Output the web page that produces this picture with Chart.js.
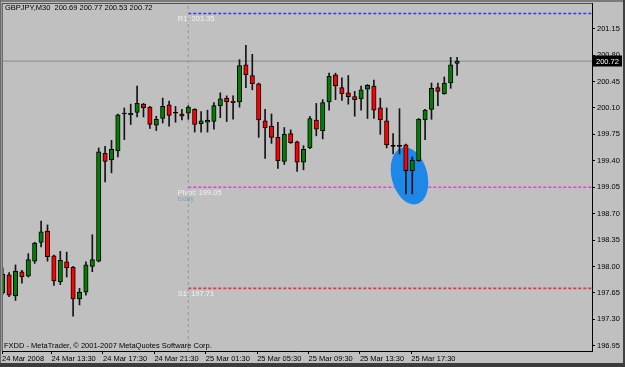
<!DOCTYPE html>
<html><head><meta charset="utf-8">
<script src="https://cdn.jsdelivr.net/npm/chart.js@4/dist/chart.umd.min.js"></script>
<style>html,body{margin:0;padding:0;background:#c0c0c0;overflow:hidden}canvas{display:block}</style>
</head><body>
<canvas id="c" width="625" height="367"></canvas>
<script>
// ---- data (GBPJPY M30) ----
const candleOpen  = [197.65,197.89,197.61,197.93,197.87,198.07,198.32,198.47,198.14,197.80,198.06,197.99,197.57,197.66,198.00,198.07,199.50,199.41,199.53,200.02,200.01,200.04,200.15,200.11,199.87,199.96,200.14,200.03,200.02,200.03,200.08,199.89,199.91,199.92,200.13,200.23,200.19,200.18,200.67,200.53,200.42,199.93,199.86,199.71,199.39,199.76,199.65,199.38,199.57,199.94,199.80,200.18,200.54,200.37,200.30,200.25,200.22,200.35,200.39,200.10,199.93,199.59,199.59,199.61,199.27,199.40,199.94,200.08,200.37,200.29,200.43,200.69];
const candleHigh  = [197.98,197.92,198.02,197.95,198.17,198.32,198.60,198.55,198.15,198.20,198.19,198.00,197.71,198.06,198.42,199.57,199.59,199.67,200.02,200.10,200.15,200.39,200.16,200.12,199.99,200.23,200.19,200.12,200.08,200.13,200.09,200.05,200.07,200.17,200.30,200.26,200.26,200.74,200.93,200.81,200.43,200.08,200.02,199.91,199.84,199.81,199.66,199.60,199.99,200.16,200.21,200.56,200.56,200.50,200.53,200.32,200.39,200.41,200.47,200.23,200.10,199.76,200.09,199.62,199.45,199.96,200.08,200.43,200.43,200.51,200.77,200.77];
const candleLow   = [197.63,197.60,197.55,197.78,197.86,198.04,198.26,198.07,197.75,197.76,197.86,197.34,197.49,197.62,197.93,198.06,199.12,199.24,199.45,199.68,199.88,199.98,199.98,199.83,199.80,199.90,199.86,199.91,199.94,199.95,199.78,199.78,199.78,199.82,199.97,199.92,199.95,200.11,200.37,200.34,199.71,199.43,199.63,199.30,199.35,199.63,199.26,199.28,199.56,199.73,199.69,200.07,200.21,200.20,200.15,199.99,200.07,199.96,199.96,199.75,199.57,199.49,199.49,198.96,198.96,199.39,199.68,199.95,200.13,200.28,200.36,200.53];
const candleClose = [197.90,197.62,197.94,197.86,198.09,198.31,198.46,198.13,197.81,198.08,197.98,197.57,197.66,198.02,198.09,199.52,199.39,199.55,200.01,200.02,200.03,200.16,200.10,199.88,199.95,200.12,200.00,200.03,199.99,200.11,199.88,199.93,199.94,200.13,200.22,200.18,200.17,200.66,200.54,200.42,199.94,199.84,199.71,199.40,199.75,199.64,199.38,199.55,199.96,199.82,200.17,200.52,200.39,200.29,200.25,200.21,200.34,200.40,200.07,199.94,199.61,199.59,199.59,199.27,199.41,199.95,200.07,200.36,200.32,200.43,200.67,200.72];

const timeLabels  = ['24 Mar 2008','24 Mar 13:30','24 Mar 17:30','24 Mar 21:30','25 Mar 01:30','25 Mar 05:30','25 Mar 09:30','25 Mar 13:30','25 Mar 17:30'];
const timeTickIdx = [-0.11, 7.64, 15.67, 23.70, 31.73, 39.76, 47.79, 55.82, 63.85];
const priceTicks  = [196.95,197.30,197.65,198.00,198.35,198.70,199.05,199.40,199.75,200.10,200.45,200.80,201.15];

const levelNames  = ['R1','Pivot','S1'];
const levelValues = [201.35, 199.05, 197.71];
const daySeparatorIdx = 29;
const lastPrice = 200.72;
const headerText = 'GBPJPY,M30  200.69 200.77 200.53 200.72';
const footerText = 'FXDD - MetaTrader, \u00A9 2001-2007 MetaQuotes Software Corp.';
const highlight = {x: 63.56, y: 199.20, rx: 2.8, ry: 0.385};

// ---- view ----
const X_MIN = -0.11, X_MAX = 92.08, Y_MIN = 196.88, Y_MAX = 201.49;
const FONT = "'Liberation Sans', Arial, sans-serif";
const levelColors = ['#3434f4', '#e040e0', '#ec3434'];

const idx = candleOpen.map((_, i) => i);
const bodyColors = idx.map(i => candleClose[i] > candleOpen[i] ? '#008000' : (candleClose[i] < candleOpen[i] ? '#ff0000' : '#000000'));

const datasets = [
  { label: 'bodies', type: 'bar', order: 0, grouped: false,
    data: idx.map(i => ({x: i, y: [candleOpen[i], candleClose[i]]})),
    backgroundColor: bodyColors, borderColor: '#000', borderWidth: 1, borderSkipped: false,
    barThickness: 4.4, minBarLength: 1 },
  { label: 'wicks', type: 'bar', order: 1, grouped: false,
    data: idx.map(i => ({x: i, y: [candleLow[i], candleHigh[i]]})),
    backgroundColor: '#141414', borderWidth: 0, barThickness: 1 },
  { label: 'last', type: 'line', order: 3,
    data: [{x: X_MIN, y: lastPrice}, {x: X_MAX, y: lastPrice}],
    borderColor: '#8e98a2', borderWidth: 1.2, pointRadius: 0 },
  { label: 'sep', type: 'line', order: 3,
    data: [{x: daySeparatorIdx, y: Y_MIN}, {x: daySeparatorIdx, y: Y_MAX}],
    borderColor: '#969696', borderWidth: 1, borderDash: [3, 3], pointRadius: 0 }
];
levelValues.forEach((v, k) => datasets.push({
  label: levelNames[k], type: 'line', order: 3,
  data: [{x: daySeparatorIdx, y: v}, {x: X_MAX, y: v}],
  borderColor: levelColors[k], borderWidth: 1.6, borderDash: [3, 2], pointRadius: 0
}));

const mt4 = {
  id: 'mt4',
  beforeDraw(chart) {
    const c = chart.ctx;
    c.save(); c.fillStyle = '#c0c0c0'; c.fillRect(0, 0, chart.width, chart.height); c.restore();
  },
  beforeDatasetDraw(chart, args) {
    if (args.meta.label !== 'wicks') return;
    const c = chart.ctx, xs = chart.scales.x, ys = chart.scales.y;
    const cx = xs.getPixelForValue(highlight.x), cy = ys.getPixelForValue(highlight.y);
    const rx = Math.abs(xs.getPixelForValue(highlight.x + highlight.rx) - cx);
    const ry = Math.abs(ys.getPixelForValue(highlight.y + highlight.ry) - cy);
    c.save();
    c.fillStyle = '#1e88e8';
    c.beginPath(); c.ellipse(cx, cy, rx, ry, -0.25, 0, Math.PI * 2); c.fill();
    c.restore();
  },
  afterDatasetsDraw(chart) {
    const c = chart.ctx, xs = chart.scales.x, ys = chart.scales.y, a = chart.chartArea;
    c.save();
    c.font = '7.5px ' + FONT;
    c.textBaseline = 'top'; c.textAlign = 'left';
    const sx = xs.getPixelForValue(daySeparatorIdx);
    levelValues.forEach((v, k) => {
      const y = ys.getPixelForValue(v);
      c.fillStyle = '#f2f2f2';
      c.fillText(levelNames[k] + ': ' + v.toFixed(2), sx - 10.5, y + 2);
      if (levelNames[k] === 'Pivot') {
        c.fillStyle = '#7fa6b8'; c.font = '6.5px ' + FONT;
        c.fillText('today', sx - 10.5, y + 9);
        c.font = '7.5px ' + FONT;
      }
    });
    c.fillStyle = '#000';
    c.textBaseline = 'middle';
    c.fillText(headerText, 5, 8);
    c.fillText(footerText, 4, 345.5);
    // plot frame (left/top)
    c.strokeStyle = '#6c6c6c'; c.lineWidth = 1.5;
    c.beginPath(); c.moveTo(a.left + 0.25, a.top); c.lineTo(a.left + 0.25, a.bottom); c.stroke();
    c.strokeStyle = '#505050'; c.lineWidth = 1;
    c.beginPath(); c.moveTo(a.left, a.top + 0.5); c.lineTo(a.right, a.top + 0.5); c.stroke();
    c.restore();
  },
  afterDraw(chart) {
    const c = chart.ctx, ys = chart.scales.y, a = chart.chartArea;
    const y = ys.getPixelForValue(lastPrice);
    c.save();
    c.fillStyle = '#000';
    c.fillRect(a.right + 1, Math.round(y) - 5.5, 29, 11);
    c.fillStyle = '#ffffff';
    c.font = '7.5px ' + FONT; c.textBaseline = 'middle'; c.textAlign = 'left';
    c.fillText(lastPrice.toFixed(2), a.right + 4, Math.round(y) + 0.5);
    // window frame
    c.fillStyle = '#7a7a7a'; c.fillRect(0, 0, chart.width, 2);
    c.fillStyle = '#6a6a6a'; c.fillRect(0, 0, 1, chart.height);
    c.fillStyle = '#404040'; c.fillRect(chart.width - 2, 0, 2, chart.height);
    c.fillStyle = '#3c3c3c'; c.fillRect(0, chart.height - 4, chart.width, 4);
    c.restore();
  }
};

new Chart(document.getElementById('c'), {
  type: 'bar',
  data: { datasets },
  options: {
    responsive: false, devicePixelRatio: 1, animation: false, events: [],
    layout: { padding: { left: 2, top: 3, right: 0, bottom: 0 } },
    plugins: { legend: { display: false }, tooltip: { enabled: false } },
    scales: {
      x: {
        type: 'linear', min: X_MIN, max: X_MAX, offset: false,
        afterBuildTicks: s => { s.ticks = timeTickIdx.map(v => ({value: v})); },
        afterFit: s => { s.height = 16; s.paddingLeft = 0; s.paddingRight = 0; },
        ticks: { autoSkip: false, maxRotation: 0, align: 'start', padding: 0, color: '#000',
                 font: { family: FONT, size: 7.5 },
                 callback: (v, i) => timeLabels[i] },
        grid: { drawOnChartArea: false, offset: false, tickLength: 3, color: '#000' },
        border: { display: true, color: '#000', width: 1 }
      },
      y: {
        type: 'linear', position: 'right', min: Y_MIN, max: Y_MAX, beginAtZero: false,
        afterBuildTicks: s => { s.ticks = priceTicks.map(v => ({value: v})); },
        afterFit: s => { s.width = 33; s.paddingTop = 0; s.paddingBottom = 0; },
        ticks: { autoSkip: false, padding: 2, color: '#000', font: { family: FONT, size: 7.5 },
                 callback: v => Number(v).toFixed(2) },
        grid: { drawOnChartArea: false, tickLength: 3, color: '#000' },
        border: { display: true, color: '#000', width: 1 }
      }
    }
  },
  plugins: [mt4]
});
</script>
</body></html>
